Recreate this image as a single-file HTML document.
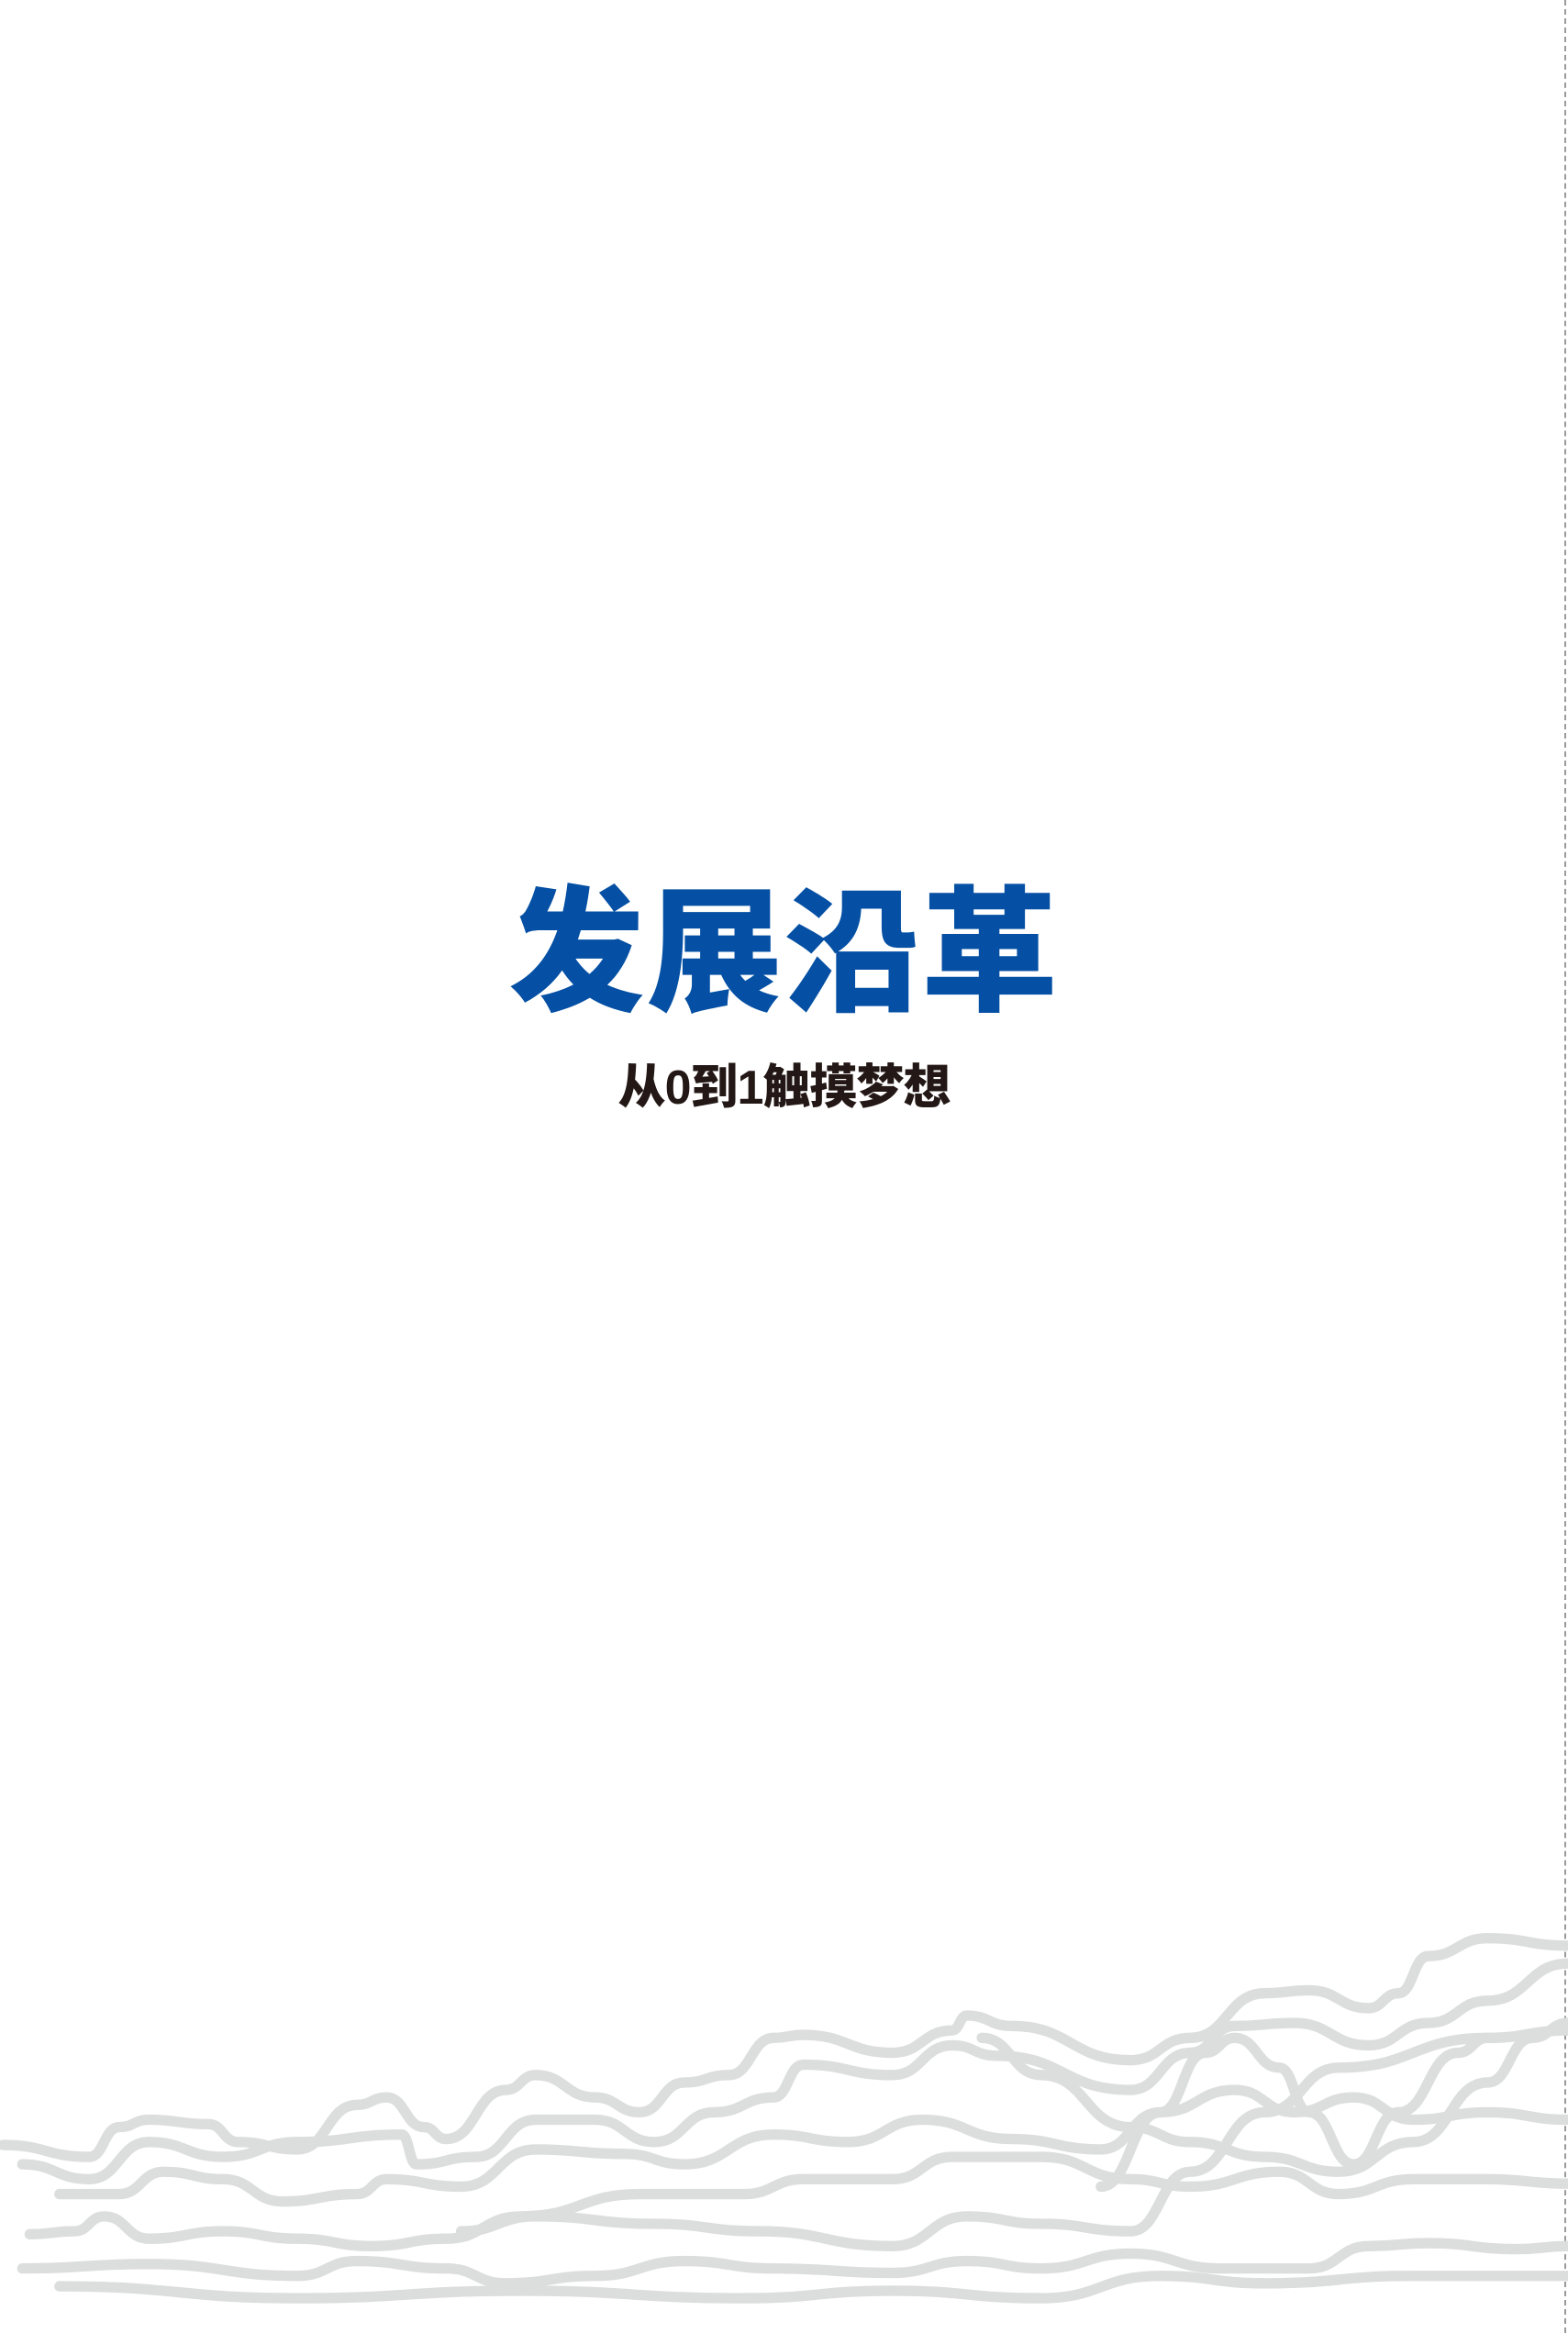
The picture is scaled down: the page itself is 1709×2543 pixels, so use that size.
<!DOCTYPE html>
<html><head><meta charset="utf-8">
<style>
html,body{margin:0;padding:0;background:#fff;}
body{width:1709px;height:2543px;position:relative;overflow:hidden;}
.t{position:absolute;left:0;width:1709px;text-align:center;font-family:"Liberation Sans","Noto Sans CJK SC",sans-serif;font-weight:900;white-space:nowrap;}
#title{top:955px;font-size:148px;line-height:170px;color:#0550a4;letter-spacing:2px;}
#sub{top:1153px;font-size:52px;line-height:66px;color:#231815;letter-spacing:-1px;}
#dash{position:absolute;left:1705px;top:0;width:0;height:2543px;border-left:2px dashed #9a9a9a;}
svg{position:absolute;left:0;top:0;}
</style></head><body>
<div id="title" class="t">发展沿革</div>
<div id="sub" class="t">从0到1触摸梦想</div>
<div id="dash"></div>
<svg id="waves" width="1709" height="2543">
<g transform="scale(1.6214)" fill="none" stroke="#dcdddd" stroke-width="7" stroke-linejoin="round" stroke-linecap="round" id="g"></g>
</svg>
<script>
const lines=[
[[2,1442],[60,1450],[80,1430],[100,1425],[140,1428],[160,1440],[200,1445],[240,1415],[260,1410],[285,1430],[300,1438],[340,1405],[360,1395],[400,1410],[430,1420],[460,1400],[490,1395],[520,1370],[540,1368],[600,1380],[640,1365],[650,1355],[680,1362],[760,1385],[800,1370],[850,1340],[880,1338],[920,1350],[940,1340],[960,1315],[1000,1303],[1054,1308]],
[[15,1455],[60,1465],[100,1440],[150,1450],[200,1440],[270,1435],[280,1455],[320,1450],[360,1425],[400,1425],[440,1440],[480,1420],[520,1410],[540,1388],[600,1395],[640,1375],[670,1382],[760,1405],[800,1380],[830,1362],[870,1360],[920,1375],[960,1360],[1000,1345],[1054,1320]],
[[40,1475],[80,1475],[110,1460],[150,1465],[190,1480],[240,1475],[260,1465],[310,1470],[360,1445],[420,1448],[460,1455],[520,1435],[570,1440],[620,1425],[680,1438],[740,1445],[780,1420],[830,1405],[870,1420],[910,1410],[950,1425],[1000,1420],[1054,1425]],
[[20,1502],[50,1500],[70,1490],[100,1505],[150,1500],[200,1505],[250,1510],[300,1505],[350,1490],[430,1475],[500,1475],[540,1465],[600,1465],[640,1450],[700,1450],[760,1465],[800,1470],[860,1460],[900,1475],[950,1465],[1000,1465],[1054,1468]],
[[15,1525],[100,1522],[200,1530],[240,1520],[300,1525],[340,1535],[400,1530],[460,1520],[520,1525],[600,1528],[650,1520],[700,1525],[760,1515],[820,1525],[880,1525],[920,1510],[960,1508],[1020,1512],[1054,1510]],
[[40,1537],[200,1545],[350,1540],[500,1545],[600,1540],[700,1545],[780,1530],[850,1535],[950,1530],[1054,1530]],
[[310,1500],[360,1490],[440,1495],[510,1500],[600,1510],[650,1490],[700,1495],[760,1500],[800,1460],[850,1420],[900,1390],[1000,1370],[1054,1365]],
[[660,1370],[700,1395],[760,1430],[800,1440],[850,1450],[900,1460],[950,1440],[1000,1400],[1030,1370],[1054,1360]],
[[740,1470],[780,1420],[810,1380],[830,1370],[860,1390],[880,1420],[910,1455],[940,1420],[980,1380],[1000,1370]]
];
const g=document.getElementById('g');
lines.forEach((pts,i)=>{
  let d='M'+pts[0][0]+','+pts[0][1];
  for(let k=1;k<pts.length;k++){
    const p=pts[k-1],q=pts[k];
    const mx=(p[0]+q[0])/2;
    d+=' C'+mx+','+p[1]+' '+mx+','+q[1]+' '+q[0]+','+q[1];
  }
  const el=document.createElementNS('http://www.w3.org/2000/svg','path');
  el.setAttribute('d',d);
  
  
  g.appendChild(el);
});
</script>
</body></html>
